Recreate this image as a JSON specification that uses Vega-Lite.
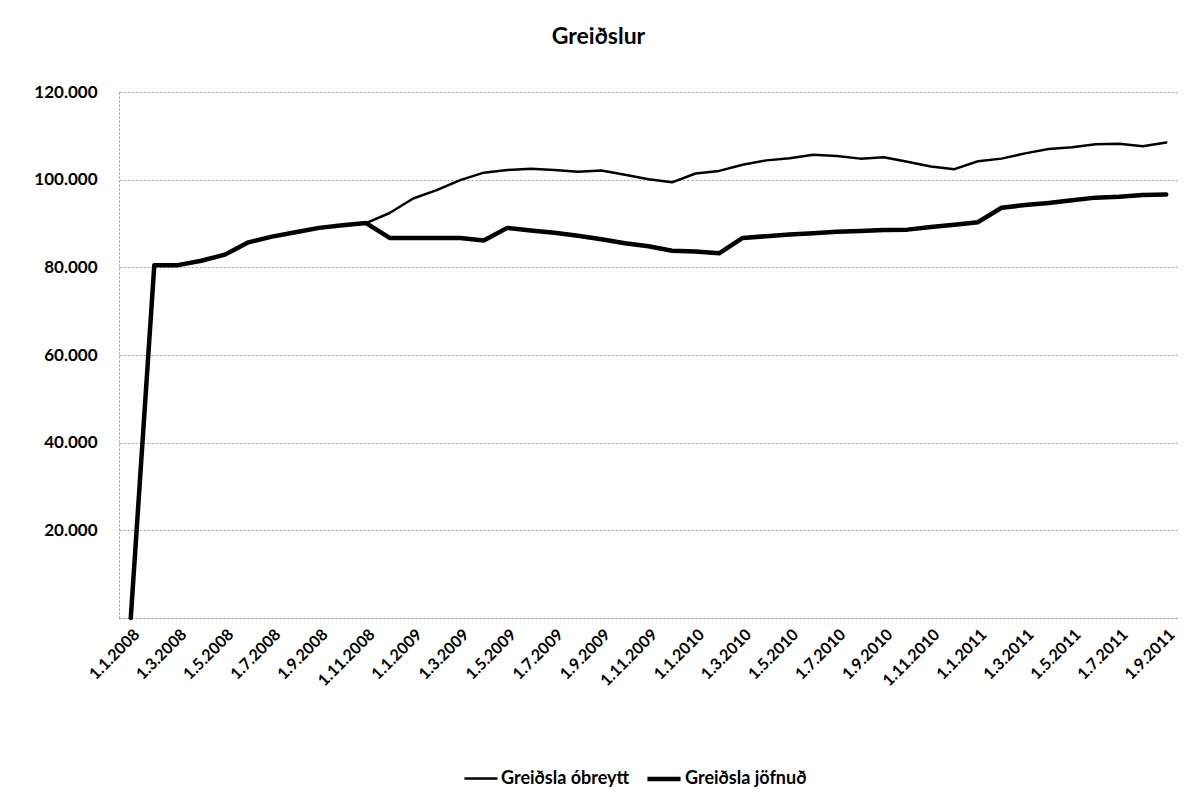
{
  "$schema": "https://vega.github.io/schema/vega-lite/v6.json",
  "autosize": {"type": "none"},
  "width": 1059,
  "height": 526,
  "padding": {"left": 119, "top": 92, "right": 25, "bottom": 179},
  "background": "white",
  "title": {"text": "Greiðslur", "font": "Lato", "fontSize": 23, "fontWeight": "bold", "color": "#000", "anchor": "middle", "dx": -50, "offset": 34},
  "config": {"view": {"stroke": null}},
  "data": {"values": [
    {"d": "1.1.2008", "s": "Greiðsla óbreytt", "v": 0}, {"d": "1.1.2008", "s": "Greiðsla jöfnuð", "v": 0},
    {"d": "1.2.2008", "s": "Greiðsla óbreytt", "v": 80500}, {"d": "1.2.2008", "s": "Greiðsla jöfnuð", "v": 80500},
    {"d": "1.3.2008", "s": "Greiðsla óbreytt", "v": 80500}, {"d": "1.3.2008", "s": "Greiðsla jöfnuð", "v": 80500},
    {"d": "1.4.2008", "s": "Greiðsla óbreytt", "v": 81500}, {"d": "1.4.2008", "s": "Greiðsla jöfnuð", "v": 81500},
    {"d": "1.5.2008", "s": "Greiðsla óbreytt", "v": 82900}, {"d": "1.5.2008", "s": "Greiðsla jöfnuð", "v": 82900},
    {"d": "1.6.2008", "s": "Greiðsla óbreytt", "v": 85700}, {"d": "1.6.2008", "s": "Greiðsla jöfnuð", "v": 85700},
    {"d": "1.7.2008", "s": "Greiðsla óbreytt", "v": 87000}, {"d": "1.7.2008", "s": "Greiðsla jöfnuð", "v": 87000},
    {"d": "1.8.2008", "s": "Greiðsla óbreytt", "v": 88000}, {"d": "1.8.2008", "s": "Greiðsla jöfnuð", "v": 88000},
    {"d": "1.9.2008", "s": "Greiðsla óbreytt", "v": 89000}, {"d": "1.9.2008", "s": "Greiðsla jöfnuð", "v": 89000},
    {"d": "1.10.2008", "s": "Greiðsla óbreytt", "v": 89600}, {"d": "1.10.2008", "s": "Greiðsla jöfnuð", "v": 89600},
    {"d": "1.11.2008", "s": "Greiðsla óbreytt", "v": 90100}, {"d": "1.11.2008", "s": "Greiðsla jöfnuð", "v": 90100},
    {"d": "1.12.2008", "s": "Greiðsla óbreytt", "v": 92400}, {"d": "1.12.2008", "s": "Greiðsla jöfnuð", "v": 86700},
    {"d": "1.1.2009", "s": "Greiðsla óbreytt", "v": 95700}, {"d": "1.1.2009", "s": "Greiðsla jöfnuð", "v": 86700},
    {"d": "1.2.2009", "s": "Greiðsla óbreytt", "v": 97600}, {"d": "1.2.2009", "s": "Greiðsla jöfnuð", "v": 86700},
    {"d": "1.3.2009", "s": "Greiðsla óbreytt", "v": 99900}, {"d": "1.3.2009", "s": "Greiðsla jöfnuð", "v": 86700},
    {"d": "1.4.2009", "s": "Greiðsla óbreytt", "v": 101600}, {"d": "1.4.2009", "s": "Greiðsla jöfnuð", "v": 86100},
    {"d": "1.5.2009", "s": "Greiðsla óbreytt", "v": 102200}, {"d": "1.5.2009", "s": "Greiðsla jöfnuð", "v": 89000},
    {"d": "1.6.2009", "s": "Greiðsla óbreytt", "v": 102500}, {"d": "1.6.2009", "s": "Greiðsla jöfnuð", "v": 88400},
    {"d": "1.7.2009", "s": "Greiðsla óbreytt", "v": 102200}, {"d": "1.7.2009", "s": "Greiðsla jöfnuð", "v": 87900},
    {"d": "1.8.2009", "s": "Greiðsla óbreytt", "v": 101800}, {"d": "1.8.2009", "s": "Greiðsla jöfnuð", "v": 87200},
    {"d": "1.9.2009", "s": "Greiðsla óbreytt", "v": 102100}, {"d": "1.9.2009", "s": "Greiðsla jöfnuð", "v": 86400},
    {"d": "1.10.2009", "s": "Greiðsla óbreytt", "v": 101100}, {"d": "1.10.2009", "s": "Greiðsla jöfnuð", "v": 85500},
    {"d": "1.11.2009", "s": "Greiðsla óbreytt", "v": 100100}, {"d": "1.11.2009", "s": "Greiðsla jöfnuð", "v": 84800},
    {"d": "1.12.2009", "s": "Greiðsla óbreytt", "v": 99400}, {"d": "1.12.2009", "s": "Greiðsla jöfnuð", "v": 83800},
    {"d": "1.1.2010", "s": "Greiðsla óbreytt", "v": 101400}, {"d": "1.1.2010", "s": "Greiðsla jöfnuð", "v": 83600},
    {"d": "1.2.2010", "s": "Greiðsla óbreytt", "v": 102000}, {"d": "1.2.2010", "s": "Greiðsla jöfnuð", "v": 83200},
    {"d": "1.3.2010", "s": "Greiðsla óbreytt", "v": 103400}, {"d": "1.3.2010", "s": "Greiðsla jöfnuð", "v": 86700},
    {"d": "1.4.2010", "s": "Greiðsla óbreytt", "v": 104400}, {"d": "1.4.2010", "s": "Greiðsla jöfnuð", "v": 87100},
    {"d": "1.5.2010", "s": "Greiðsla óbreytt", "v": 104900}, {"d": "1.5.2010", "s": "Greiðsla jöfnuð", "v": 87500},
    {"d": "1.6.2010", "s": "Greiðsla óbreytt", "v": 105700}, {"d": "1.6.2010", "s": "Greiðsla jöfnuð", "v": 87800},
    {"d": "1.7.2010", "s": "Greiðsla óbreytt", "v": 105400}, {"d": "1.7.2010", "s": "Greiðsla jöfnuð", "v": 88100},
    {"d": "1.8.2010", "s": "Greiðsla óbreytt", "v": 104800}, {"d": "1.8.2010", "s": "Greiðsla jöfnuð", "v": 88300},
    {"d": "1.9.2010", "s": "Greiðsla óbreytt", "v": 105100}, {"d": "1.9.2010", "s": "Greiðsla jöfnuð", "v": 88500},
    {"d": "1.10.2010", "s": "Greiðsla óbreytt", "v": 104100}, {"d": "1.10.2010", "s": "Greiðsla jöfnuð", "v": 88600},
    {"d": "1.11.2010", "s": "Greiðsla óbreytt", "v": 103000}, {"d": "1.11.2010", "s": "Greiðsla jöfnuð", "v": 89200},
    {"d": "1.12.2010", "s": "Greiðsla óbreytt", "v": 102400}, {"d": "1.12.2010", "s": "Greiðsla jöfnuð", "v": 89700},
    {"d": "1.1.2011", "s": "Greiðsla óbreytt", "v": 104200}, {"d": "1.1.2011", "s": "Greiðsla jöfnuð", "v": 90300},
    {"d": "1.2.2011", "s": "Greiðsla óbreytt", "v": 104800}, {"d": "1.2.2011", "s": "Greiðsla jöfnuð", "v": 93600},
    {"d": "1.3.2011", "s": "Greiðsla óbreytt", "v": 106000}, {"d": "1.3.2011", "s": "Greiðsla jöfnuð", "v": 94200},
    {"d": "1.4.2011", "s": "Greiðsla óbreytt", "v": 107000}, {"d": "1.4.2011", "s": "Greiðsla jöfnuð", "v": 94700},
    {"d": "1.5.2011", "s": "Greiðsla óbreytt", "v": 107400}, {"d": "1.5.2011", "s": "Greiðsla jöfnuð", "v": 95300},
    {"d": "1.6.2011", "s": "Greiðsla óbreytt", "v": 108100}, {"d": "1.6.2011", "s": "Greiðsla jöfnuð", "v": 95900},
    {"d": "1.7.2011", "s": "Greiðsla óbreytt", "v": 108200}, {"d": "1.7.2011", "s": "Greiðsla jöfnuð", "v": 96100},
    {"d": "1.8.2011", "s": "Greiðsla óbreytt", "v": 107600}, {"d": "1.8.2011", "s": "Greiðsla jöfnuð", "v": 96500},
    {"d": "1.9.2011", "s": "Greiðsla óbreytt", "v": 108500}, {"d": "1.9.2011", "s": "Greiðsla jöfnuð", "v": 96600}
  ]},
  "mark": {"type": "line", "color": "#000000", "strokeJoin": "round", "strokeCap": "round"},
  "encoding": {
    "x": {
      "field": "d", "type": "ordinal", "sort": null,
      "scale": {"type": "point", "padding": 0.5},
      "axis": {
        "title": null, "grid": false, "ticks": false,
        "values": ["1.1.2008", "1.3.2008", "1.5.2008", "1.7.2008", "1.9.2008", "1.11.2008", "1.1.2009", "1.3.2009", "1.5.2009", "1.7.2009", "1.9.2009", "1.11.2009", "1.1.2010", "1.3.2010", "1.5.2010", "1.7.2010", "1.9.2010", "1.11.2010", "1.1.2011", "1.3.2011", "1.5.2011", "1.7.2011", "1.9.2011"],
        "labelAngle": -45, "labelAlign": "right", "labelBaseline": "top", "labelPadding": 8,
        "labelFont": "Lato", "labelFontSize": 16, "labelFontWeight": "bold", "labelColor": "#000",
        "domainColor": "#999", "domainDash": [2, 2]
      }
    },
    "y": {
      "field": "v", "type": "quantitative",
      "scale": {"domain": [0, 120000], "nice": false},
      "axis": {
        "title": null, "values": [0, 20000, 40000, 60000, 80000, 100000, 120000],
        "labelExpr": "datum.value == 0 ? '' : replace(format(datum.value, ','), ',', '.')",
        "ticks": false, "labelPadding": 22,
        "labelFont": "Lato", "labelFontSize": 17, "labelFontWeight": "bold", "labelColor": "#000",
        "grid": true, "gridColor": "#999", "gridDash": [2, 2], "gridWidth": 1,
        "domainColor": "#999", "domainDash": [2, 2]
      }
    },
    "strokeWidth": {
      "field": "s", "type": "nominal",
      "sort": ["Greiðsla óbreytt", "Greiðsla jöfnuð"],
      "scale": {"type": "ordinal", "range": [2.5, 4.5]},
      "legend": {
        "title": null, "orient": "none", "legendX": 344, "legendY": 668, "direction": "horizontal",
        "symbolType": "stroke", "symbolSize": 1100, "symbolStrokeColor": "#000000", "labelOffset": 2, "columnPadding": 8,
        "labelFont": "Lato", "labelFontSize": 18, "labelFontWeight": "bold", "labelColor": "#000"
      }
    }
  }
}
